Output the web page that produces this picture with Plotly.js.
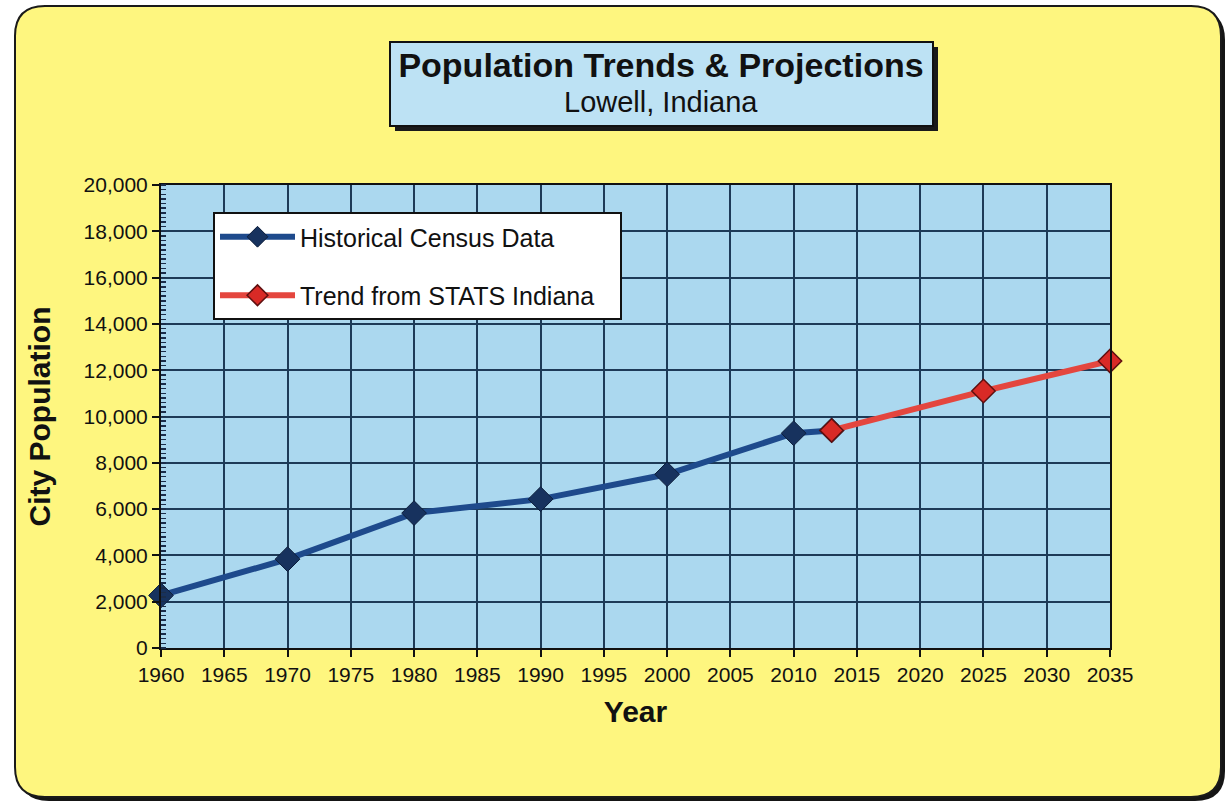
<!DOCTYPE html>
<html>
<head>
<meta charset="utf-8">
<script src="https://cdn.plot.ly/plotly-3.0.1.min.js"></script>
<style>html,body{margin:0;padding:0;background:#fff;}</style>
</head>
<body>
<div id="chart" style="width:1227px;height:803px;"></div>
<script>
// Census counts (1960-2010) plus the 2013 estimate that links the two series
const censusYears = [1960, 1970, 1980, 1990, 2000, 2010, 2013];
const censusPop   = [2270, 3839, 5827, 6430, 7505, 9276, 9400];
// STATS Indiana trend projection
const trendYears = [2013, 2025, 2035];
const trendPop   = [9400, 11100, 12400];
// Axis ticks
const yearTicks = [1960, 1965, 1970, 1975, 1980, 1985, 1990, 1995, 2000, 2005, 2010, 2015, 2020, 2025, 2030, 2035];
const popTicks  = [0, 2000, 4000, 6000, 8000, 10000, 12000, 14000, 16000, 18000, 20000];

const W = 1227, H = 803;
const M = {l: 161, r: 117, t: 185, b: 155};
const PW = W - M.l - M.r, PH = H - M.t - M.b;
// pixel -> paper fraction helpers for decorative shapes
const fx = x => (x - M.l) / PW;
const fy = y => (M.t + PH - y) / PH;

function roundRect(x0, y0, x1, y1, r) {
  const P = (x, y) => fx(x).toFixed(5) + ',' + fy(y).toFixed(5);
  return 'M' + P(x0 + r, y0) + ' L' + P(x1 - r, y0) + ' Q' + P(x1, y0) + ' ' + P(x1, y0 + r) +
         ' L' + P(x1, y1 - r) + ' Q' + P(x1, y1) + ' ' + P(x1 - r, y1) +
         ' L' + P(x0 + r, y1) + ' Q' + P(x0, y1) + ' ' + P(x0, y1 - r) +
         ' L' + P(x0, y0 + r) + ' Q' + P(x0, y0) + ' ' + P(x0 + r, y0) + ' Z';
}

const YELLOW = '#FEF67F';
const PLOTBLUE = '#ABD8EF';
const GRID = '#1D3A57';
const FONT = 'Liberation Sans, Arial, sans-serif';
const PAD = '\u00a0\u00a0\u00a0';  // keeps the legend box a little wider than its text

const traces = [
  {
    x: censusYears, y: censusPop, name: 'Historical Census Data',
    type: 'scatter', mode: 'lines+markers', legendgroup: 'census', cliponaxis: false,
    line: {color: '#1E4A8C', width: 6},
    marker: {symbol: 'diamond', size: 19, color: '#17325E', line: {color: '#0C1D3A', width: 1}}
  },
  {
    x: trendYears, y: trendPop, name: 'Trend from STATS Indiana' + PAD,
    type: 'scatter', mode: 'lines+markers', legendgroup: 'trend', cliponaxis: false,
    line: {color: '#E4463E', width: 6},
    marker: {symbol: 'diamond', size: 18, color: '#D92A26', line: {color: '#5E1010', width: 1.5}}
  }
];

const layout = {
  width: W, height: H,
  margin: M,
  paper_bgcolor: '#FFFFFF',
  plot_bgcolor: 'rgba(0,0,0,0)',
  font: {family: FONT, color: '#111111'},
  title: {
    text: '<b>Population Trends &amp; Projections</b>',
    font: {family: FONT, size: 34, color: '#111111'},
    xref: 'container', x: 661 / W, xanchor: 'center',
    yref: 'container', y: 1 - 65 / H, yanchor: 'middle'
  },
  annotations: [
    {text: 'Lowell, Indiana', xref: 'paper', yref: 'paper', x: fx(661), y: fy(102),
     xanchor: 'center', yanchor: 'middle', showarrow: false,
     font: {family: FONT, size: 29, color: '#111111'}}
  ],
  xaxis: {
    range: [1960, 2035], tickvals: yearTicks, ticktext: yearTicks.map(String),
    showgrid: true, gridcolor: GRID, gridwidth: 2,
    showline: true, linecolor: '#111111', linewidth: 2, mirror: true,
    ticks: 'outside', ticklen: 7, tickwidth: 2, tickcolor: '#111111',
    tickfont: {size: 21, color: '#111111'},
    zeroline: false,
    title: {text: '<b>Year</b>', font: {size: 30, color: '#111111'}, standoff: 16}
  },
  yaxis: {
    range: [0, 20000], tickvals: popTicks, tickformat: ',d',
    showgrid: true, gridcolor: GRID, gridwidth: 2,
    showline: true, linecolor: '#111111', linewidth: 2, mirror: true,
    ticks: 'outside', ticklen: 7, tickwidth: 2, tickcolor: '#111111',
    tickfont: {size: 21, color: '#111111'},
    minor: {dtick: 200, ticks: 'inside', ticklen: 5, tickwidth: 1.5, tickcolor: '#1B2D4A', showgrid: false},
    zeroline: false,
    title: {text: '<b>City Population</b>', font: {size: 30, color: '#111111'}, standoff: 24}
  },
  legend: {
    x: fx(213), y: fy(212), xanchor: 'left', yanchor: 'top',
    bgcolor: '#FFFFFF', bordercolor: '#111111', borderwidth: 2,
    font: {size: 25, color: '#111111'},
    itemwidth: 75, tracegroupgap: 23, traceorder: 'grouped'
  },
  shapes: [
    // page frame with drop shadow
    {type: 'path', xref: 'paper', yref: 'paper', layer: 'below', path: roundRect(19, 10, 1225, 801, 30),
     fillcolor: '#151515', line: {width: 0}},
    {type: 'path', xref: 'paper', yref: 'paper', layer: 'below', path: roundRect(15, 6, 1221, 797, 30),
     fillcolor: YELLOW, line: {color: '#1A1A1A', width: 2}},
    // plot area fill
    {type: 'rect', xref: 'paper', yref: 'paper', layer: 'below', x0: 0, x1: 1, y0: 0, y1: 1,
     fillcolor: PLOTBLUE, line: {width: 0}},
    // title box with shadow
    {type: 'rect', xref: 'paper', yref: 'paper', layer: 'below', x0: fx(395), x1: fx(938), y0: fy(131), y1: fy(47),
     fillcolor: '#1A1A1A', line: {width: 0}},
    {type: 'rect', xref: 'paper', yref: 'paper', layer: 'below', x0: fx(390), x1: fx(933), y0: fy(126), y1: fy(42),
     fillcolor: '#BDE2F4', line: {color: '#111111', width: 2}}
  ]
};

Plotly.newPlot('chart', traces, layout, {displayModeBar: false, staticPlot: true});
</script>
</body>
</html>
